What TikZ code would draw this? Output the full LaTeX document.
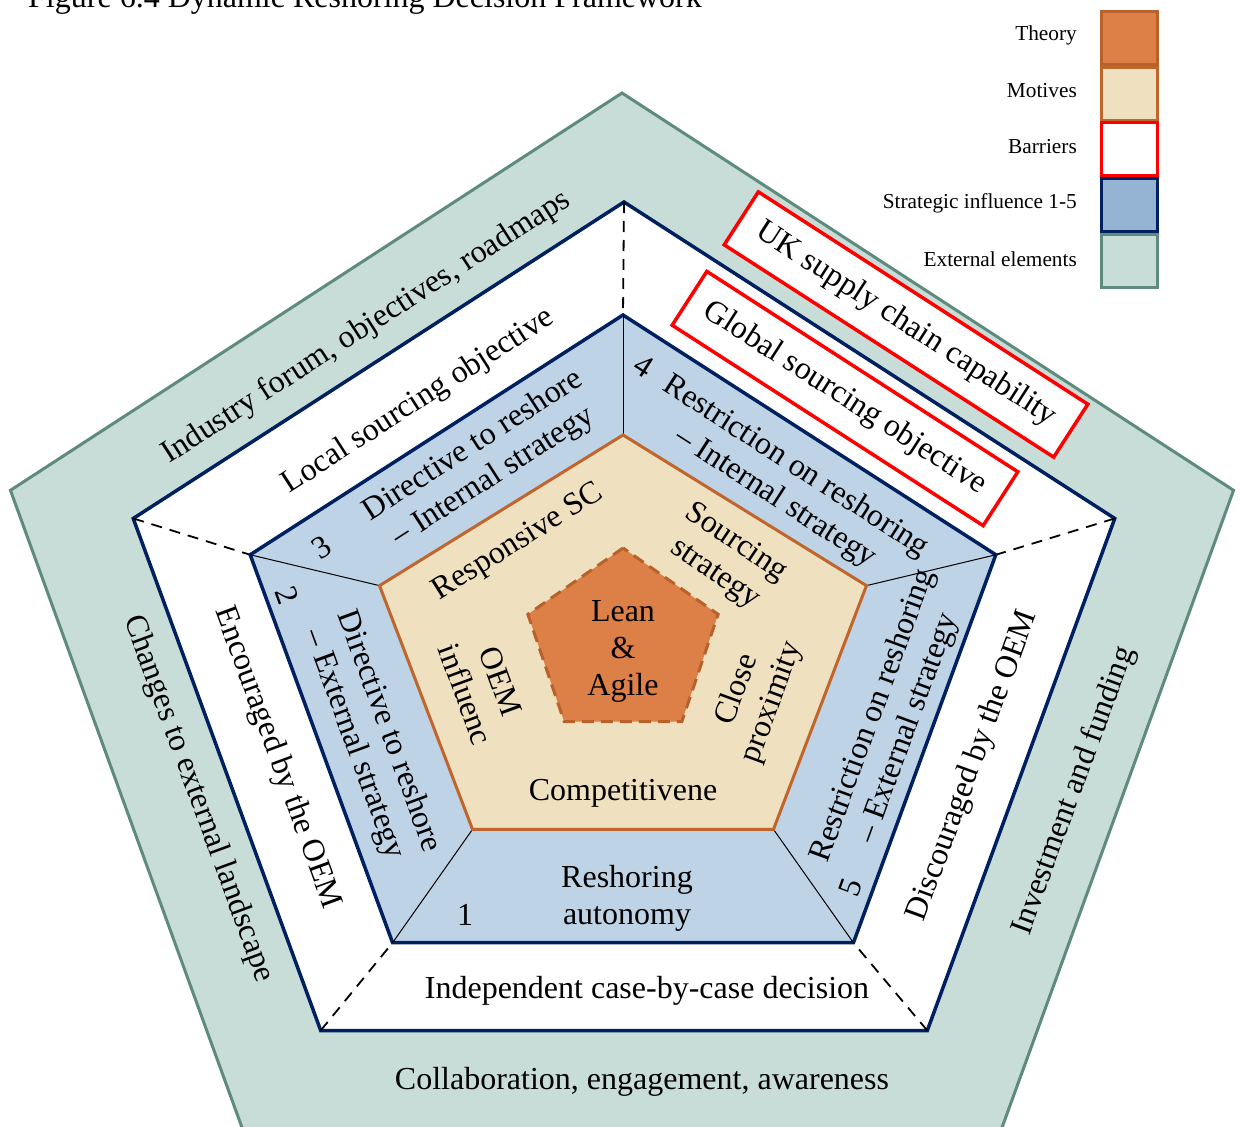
\documentclass[tikz,border=0pt]{standalone}
\usepackage{fontspec}
\setmainfont{Liberation Serif}
\usetikzlibrary{calc}

\definecolor{extfill}{HTML}{C9DDD8}
\definecolor{extline}{HTML}{5E8B7E}
\definecolor{navy}{HTML}{002060}
\definecolor{stratfill}{HTML}{BFD3E6}
\definecolor{stratleg}{HTML}{95B3D3}
\definecolor{motfill}{HTML}{EFE0BF}
\definecolor{motline}{HTML}{C0652B}
\definecolor{thfill}{HTML}{DD8047}
\definecolor{thline}{HTML}{B8612A}

% five corners of a stretched regular pentagon: name, cx, cy, rx, ry
\newcommand\pentpts[5]{%
  \foreach \k in {1,...,5}{%
    \coordinate (#1\k) at ({#2+#4*cos(90+72*(\k-1))},{#3-#5*sin(90+72*(\k-1))});
  }}

\tikzset{
  lbl/.style={font=\fontsize{32}{37}\selectfont, align=center, inner sep=0pt},
  leglbl/.style={font=\fontsize{21.3}{25}\selectfont, anchor=east, inner sep=0pt},
  legbox/.style={line width=3pt, minimum width=56pt, minimum height=53pt, inner sep=0pt},
  barrier/.style={draw=red, line width=3.5pt, fill=white, inner sep=0pt, lbl},
  ringdiv/.style={black, line width=1.8pt, dash pattern=on 11pt off 8pt},
  innerdiv/.style={black, line width=1pt},
}

\begin{document}
\begin{tikzpicture}[x=1pt, y=-1pt]
\clip (0,0) rectangle (1240,1127);
\fill[white] (0,0) rectangle (1240,1127);

\node[lbl, anchor=base west] (title) at (28,7) {Figure 6.4 Dynamic Reshoring Decision Framework};

\pentpts{G}{622}{668}{643}{575}
\pentpts{N}{624}{660}{516}{458}
\pentpts{B}{623}{662}{392}{347}
\pentpts{T}{623}{653}{256}{218}
\pentpts{O}{623}{644}{100}{96}

% rings from the outside in
\draw[fill=extfill, draw=extline, line width=3pt, line join=miter] (G1)--(G2)--(G3)--(G4)--(G5)--cycle;
\draw[fill=white, draw=navy, line width=3.5pt, line join=miter] (N1)--(N2)--(N3)--(N4)--(N5)--cycle;
\foreach \k in {1,...,5}{\draw[ringdiv] (N\k) -- (B\k);}
\draw[fill=stratfill, draw=navy, line width=3.5pt, line join=miter] (B1)--(B2)--(B3)--(B4)--(B5)--cycle;
\foreach \k in {1,...,5}{\draw[innerdiv] (B\k) -- (T\k);}
\draw[fill=motfill, draw=motline, line width=3pt, line join=miter] (T1)--(T2)--(T3)--(T4)--(T5)--cycle;
\draw[fill=thfill, draw=thline, line width=3pt, dash pattern=on 12pt off 7pt] (O1)--(O2)--(O3)--(O4)--(O5)--cycle;

% external elements
\node[lbl, rotate=32.8] (industry) at (366.5,327.5) {Industry forum, objectives, roadmaps};
\node[lbl, rotate=-69.9] (changes) at (198,799) {Changes to external landscape};
\node[lbl, rotate=69.9] (invest) at (1074,791) {Investment and funding};
\node[lbl] (collab) at (642,1082) {Collaboration, engagement, awareness};

% barriers
\node[barrier, rotate=-32.8, minimum width=392pt, minimum height=63pt] (uk) at (906,324.5) {UK supply chain capability};
\node[barrier, rotate=-32.8, minimum width=370pt, minimum height=64pt] (global) at (845,398.5) {Global sourcing objective};

% white ring
\node[lbl, rotate=32.8] (local) at (418.5,401.5) {Local sourcing objective};
\node[lbl, rotate=-69.9] (encour) at (277,758) {Encouraged by the OEM};
\node[lbl, rotate=69.9] (discour) at (973,766) {Discouraged by the OEM};
\node[lbl] (indep) at (647,991) {Independent case-by-case decision};

% strategic influence ring
\node[lbl, rotate=32.8] (dirint) at (483.5,461.5) {Directive to reshore\\– Internal strategy};
\node[lbl, rotate=32.8] (n3) at (321.5,547.5) {3};
\node[lbl, rotate=-32.8] (resint) at (785.5,482.5) {Restriction on reshoring\\– Internal strategy};
\node[lbl, rotate=-32.8] (n4) at (643.5,365.5) {4};
\node[lbl, rotate=-69.9] (dirext) at (371,738) {Directive to reshore\\– External strategy};
\node[lbl, rotate=-69.9] (n2) at (287,595) {2};
\node[lbl, rotate=69.9] (resext) at (891,722) {Restriction on reshoring\\– External strategy};
\node[lbl, rotate=69.9] (n5) at (851,887) {5};
\node[lbl] (auton) at (627,898) {Reshoring\\autonomy};
\node[lbl] (n1) at (465,915) {1};

% motives ring
\node[lbl, rotate=32] (respsc) at (518.5,542.5) {Responsive SC};
\node[lbl, rotate=-34] (sourc) at (725.5,558.5) {Sourcing\\strategy};
\node[lbl, rotate=-70] (oem) at (483,688) {OEM\\influenc};
\node[lbl, rotate=70] (close) at (755,696) {Close\\proximity};
\node[lbl] (compet) at (623,793) {Competitivene};

% theory core
\node[lbl] (lean) at (623,651) {Lean\\\&\\Agile};

% legend
\node[legbox, draw=thline, fill=thfill] (kth) at (1129,37.5) {};
\node[legbox, draw=motline, fill=motfill] (kmo) at (1129,93.5) {};
\node[legbox, draw=red, fill=white] (kba) at (1129,149) {};
\node[legbox, draw=navy, fill=stratleg] (kst) at (1129,205) {};
\node[legbox, draw=extline, fill=extfill] (kex) at (1129,261) {};
\node[leglbl] (lth) at (1077,35) {Theory};
\node[leglbl] (lmo) at (1077,91) {Motives};
\node[leglbl] (lba) at (1077,147) {Barriers};
\node[leglbl] (lst) at (1077,203) {Strategic influence 1-5};
\node[leglbl] (lex) at (1077,259) {External elements};
\end{tikzpicture}
\end{document}
